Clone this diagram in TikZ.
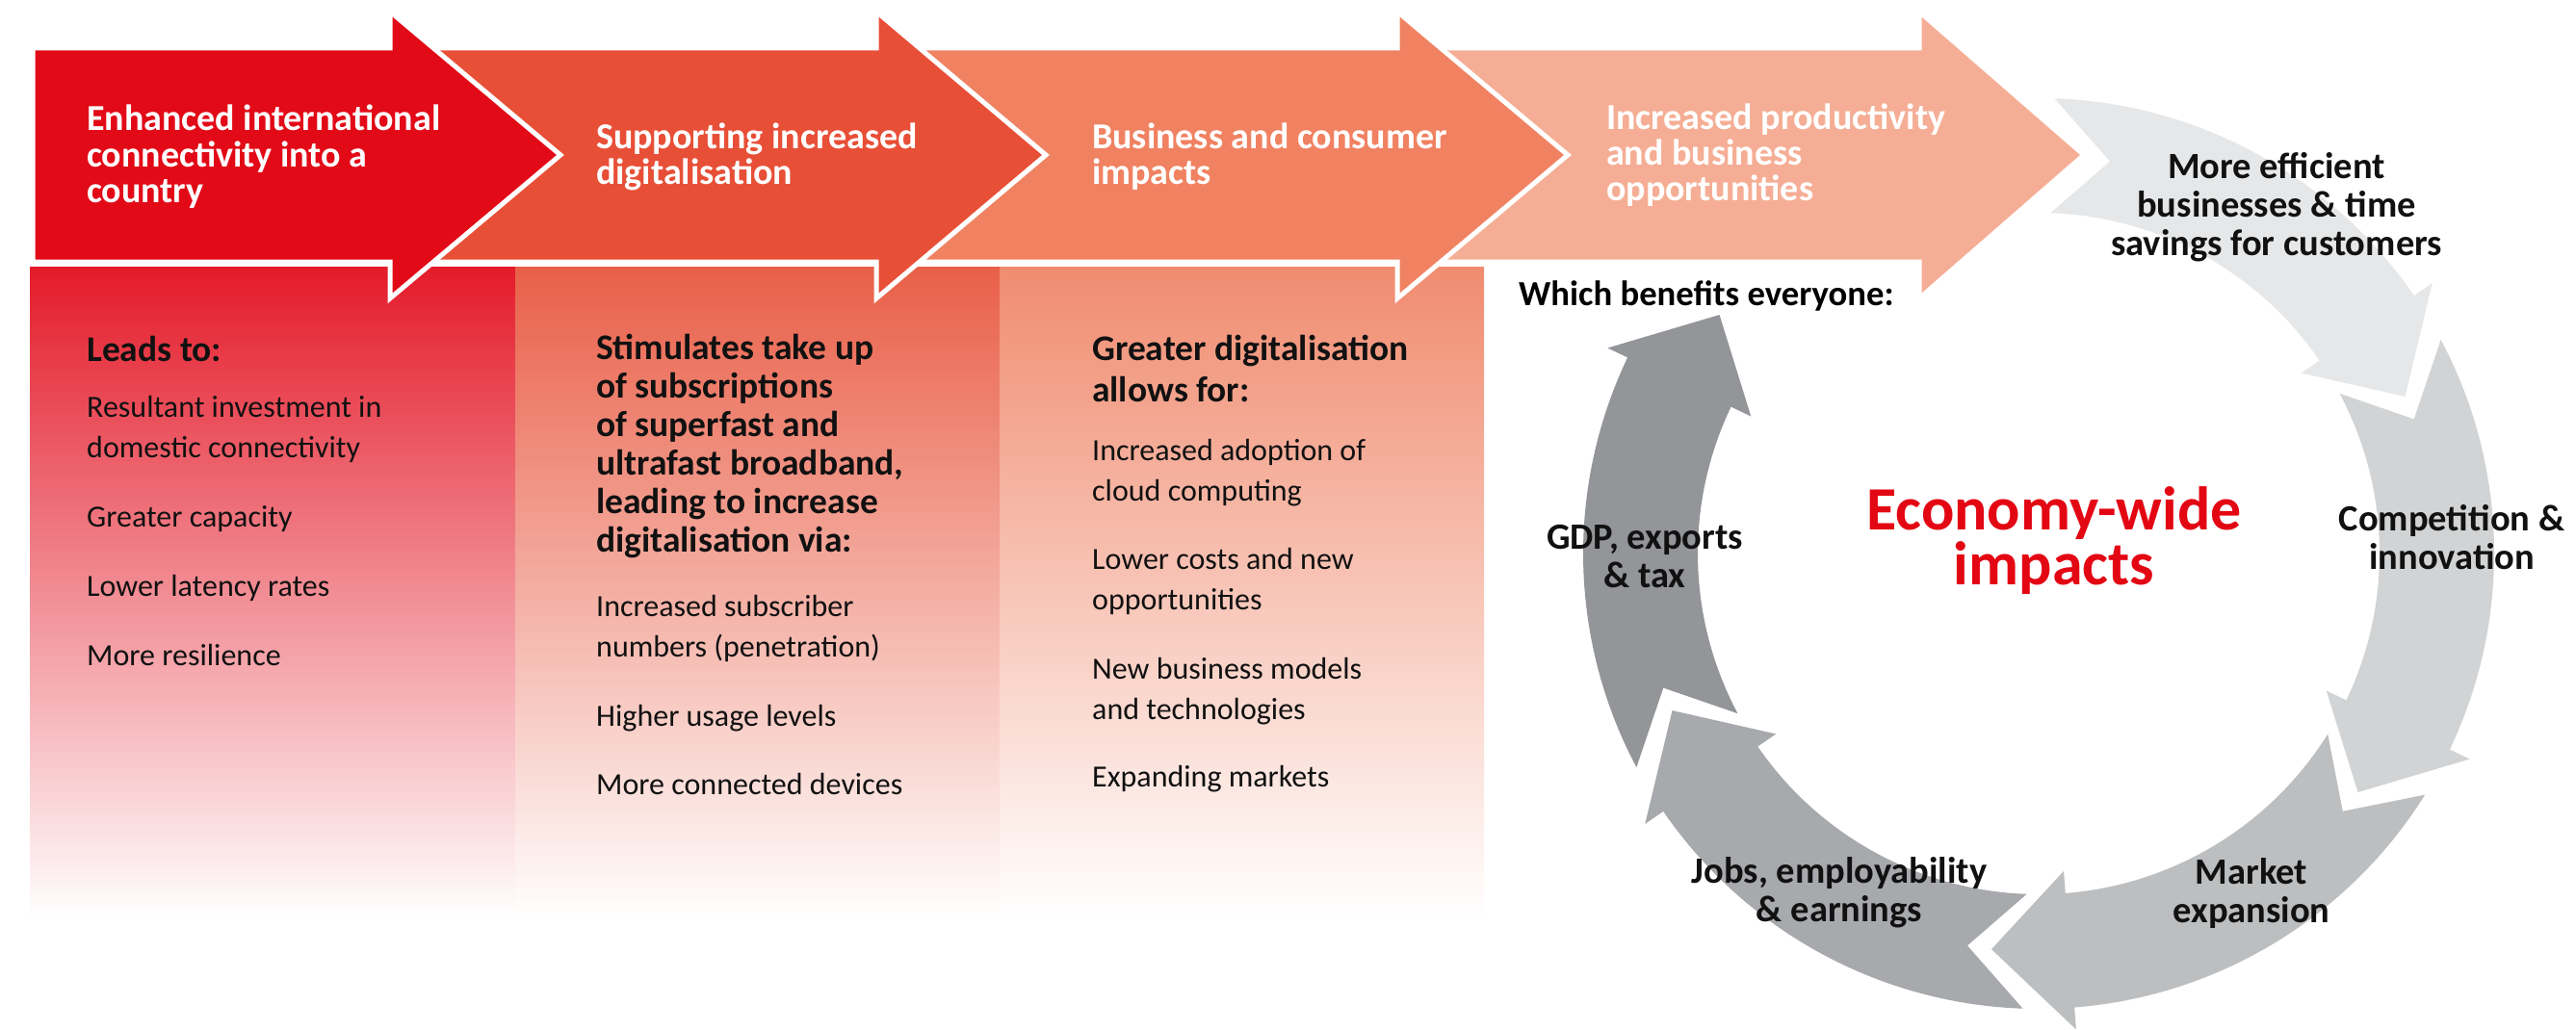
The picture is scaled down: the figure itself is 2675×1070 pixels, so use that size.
\documentclass[tikz,border=0pt]{standalone}
\usepackage{fontspec}
\setmainfont{Carlito}
\definecolor{chA}{HTML}{E20A17}
\definecolor{chB}{HTML}{E84F37}
\definecolor{chC}{HTML}{F08262}
\definecolor{chD}{HTML}{F5AE95}
\definecolor{colA}{HTML}{E41B2A}
\definecolor{colB}{HTML}{E95F48}
\definecolor{colC}{HTML}{F08C70}
\definecolor{ringA}{HTML}{E6E7E8}
\definecolor{ringB}{HTML}{D1D3D4}
\definecolor{ringC}{HTML}{BCBEC0}
\definecolor{ringD}{HTML}{A7A9AC}
\definecolor{ringE}{HTML}{939598}
\definecolor{vred}{HTML}{E30613}
\definecolor{ink}{HTML}{111111}
\tikzset{
  chev/.style={draw=white, line width=5pt, line join=miter},
  chevtext/.style={font=\fontsize{38}{37}\selectfont\bfseries, text=white, anchor=base west, inner sep=0pt, align=left},
  colhead/.style={font=\fontsize{37.5}{40}\selectfont\bfseries, text=ink, anchor=base west, inner sep=0pt, align=left},
  colbody/.style={font=\fontsize{32}{41.5}\selectfont, text=ink, anchor=base west, inner sep=0pt, align=left},
  ringlabel/.style={font=\fontsize{38.5}{40}\selectfont\bfseries, text=ink, anchor=base, inner sep=0pt, align=center},
}
\begin{document}
\begin{tikzpicture}[x=1pt, y=-1pt]
\useasboundingbox (0,0) rectangle (2675,1070);
\fill[white] (0,0) rectangle (2675,1070);

% columns with fading
\shade[top color=colA, bottom color=white] (31,277) rectangle (535,955);
\shade[top color=colB, bottom color=white] (535,277) rectangle (1038,955);
\shade[top color=colC, bottom color=white] (1038,277) rectangle (1541,955);

% chevrons (last first)
\fill[chD, chev] (1446,50) -- (1993,50) -- (1993,12) -- (2164,161) -- (1993,310) -- (1993,272) -- (1446,272) -- cycle;
\fill[chC, chev] (905,50) -- (1451,50) -- (1451,12) -- (1628,161) -- (1451,310) -- (1451,272) -- (905,272) -- cycle;
\fill[chB, chev] (400,50) -- (910,50) -- (910,12) -- (1086,161) -- (910,310) -- (910,272) -- (400,272) -- cycle;
\fill[chA, chev] (34,50) -- (405,50) -- (405,12) -- (582,161) -- (405,310) -- (405,272) -- (34,272) -- cycle;

% headings (anchor = baseline of last line)
\node[chevtext] (h1) at (90,210) {Enhanced international\\connectivity into a\\country};
\node[chevtext] (h2) at (619,191) {Supporting increased\\digitalisation};
\node[chevtext] (h3) at (1134,191) {Business and consumer\\impacts};
\node[chevtext] (h4) at (1668,208) {Increased productivity\\and business\\opportunities};

% column 1
\node[colhead] (c1h) at (90,375) {Leads to:};
\node[colbody] (c1a) at (90,475) {Resultant investment in\\domestic connectivity};
\node[colbody] (c1b) at (90,547) {Greater capacity};
\node[colbody] (c1c) at (90,619) {Lower latency rates};
\node[colbody] (c1d) at (90,691) {More resilience};

% column 2
\node[colhead] (c2h) at (619,573) {Stimulates take up\\of subscriptions\\of superfast and\\ultrafast broadband,\\leading to increase\\digitalisation via:};
\node[colbody] (c2a) at (619,682) {Increased subscriber\\numbers (penetration)};
\node[colbody] (c2b) at (619,754) {Higher usage levels};
\node[colbody] (c2c) at (619,825) {More connected devices};

% column 3
\node[colhead, font=\fontsize{37.5}{43}\selectfont\bfseries] (c3h) at (1134,417) {Greater digitalisation\\allows for:};
\node[colbody] (c3a) at (1134,520) {Increased adoption of\\cloud computing};
\node[colbody] (c3b) at (1134,633) {Lower costs and new\\opportunities};
\node[colbody] (c3c) at (1134,747) {New business models\\and technologies};
\node[colbody] (c3d) at (1134,817) {Expanding markets};

% ring of arrows
\begin{scope}[shift={(2117,575)}]
\foreach \t/\c in {-88/ringA, -28/ringB, 32/ringC, 92/ringD, 152/ringE}{
  \pgfmathsetmacro{\b}{\t+53.5}
  \pgfmathsetmacro{\tp}{\b+11.3}
  \pgfmathsetmacro{\n}{\t+8.3}
  \fill[\c] (\t:473) arc[start angle=\t, end angle=\b, radius=473]
    -- (\b:496) -- (\tp:414) -- (\b:331) -- (\b:354)
    arc[start angle=\b, end angle=\t, radius=354] -- (\n:414) -- cycle;
}
\end{scope}

\node[colhead, text=black, font=\fontsize{36.7}{40}\selectfont\bfseries] (which) at (1577,317) {Which benefits everyone:};
\node[ringlabel] (r1) at (2364,265) {More efficient\\businesses \& time\\savings for customers};
\node[ringlabel] (r2) at (2546,591) {Competition \&\\innovation};
\node[ringlabel] (r3) at (2338,958) {Market\\expansion};
\node[ringlabel] (r4) at (1910,957) {Jobs, employability\\\& earnings};
\node[ringlabel] (r5) at (1708,610) {GDP, exports\\\& tax};
\node[ringlabel, text=vred, font=\fontsize{64}{57}\selectfont\bfseries] (eco) at (2133,607) {Economy-wide\\impacts};
\end{tikzpicture}
\end{document}
